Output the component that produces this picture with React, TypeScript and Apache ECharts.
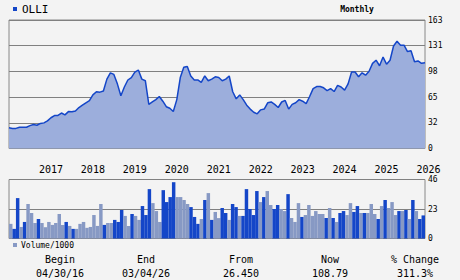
import React, { useEffect, useRef } from "react";
import * as echarts from "echarts";

const FONT = "DejaVu Sans Mono";

const prices: number[] = [
  26.3, 25.5, 25.5, 27, 27, 27, 29, 30.5, 29.5, 31.8,
  32.5, 35, 39, 41.8, 42, 45, 42.6, 46.8, 46.5, 47.5,
  52, 55, 58, 60.6, 68, 72, 71.5, 73, 88, 96,
  94, 82, 67, 78, 86.9, 90, 97, 99.5, 88, 86,
  56, 59, 62, 66, 60, 53, 51, 47, 62, 90,
  103, 104, 92, 87, 87, 84, 92, 86, 88, 91,
  90, 86, 88, 92, 72, 63, 68, 62, 55, 50,
  46, 44, 49, 50, 58, 59, 56, 52, 59, 61,
  50, 56, 58, 62, 60, 57, 66, 76, 78.6, 78.6,
  77, 73.5, 76, 72.3, 80, 78, 74, 82, 97, 97,
  91, 96, 93, 98, 108, 112, 105, 116, 107, 112,
  130, 136, 131, 131, 123, 124, 110, 111, 108, 108.79,
];

const volumes: number[] = [
  11.4, 7.5, 31.5, 9, 12.9, 26.9, 19.9, 12.1, 15.2, 12.1,
  8.8, 12.9, 10.6, 12.1, 19.1, 10.6, 12.9, 9.8, 7.5, 7.5,
  11.4, 12.9, 8.3, 9, 18.3, 9.8, 26.9, 10.6, 12.1, 12.1,
  14.5, 12.9, 22.2, 17.6, 9.8, 19.1, 17.6, 14.5, 25.3, 18.3,
  38.5, 27.6, 21.4, 12.9, 37.7, 28.4, 32.3, 43.9, 32.3, 32.3,
  30, 26.9, 24.5, 16.8, 11.4, 15.2, 30, 35.4, 14.5, 20.7,
  15.9, 23.8, 19.9, 14.5, 26.9, 24.5, 17.6, 17.6, 38.5, 23,
  18.3, 37, 28.4, 32.3, 37, 26.1, 23, 26.1, 23, 21.4,
  34.6, 16, 12.9, 27.6, 16.8, 18.3, 26.1, 17.6, 21.4, 19.1,
  19.1, 16, 23.8, 16, 12.9, 19.9, 21.4, 18.3, 27.6, 20.7,
  25.3, 19.9, 19.9, 19.9, 26.9, 19.1, 15.2, 25.3, 30, 23.8,
  28.4, 18.3, 21.4, 21.4, 22.2, 15.2, 30, 21.4, 15.2, 18,
];

// 1 = dark blue bar, 0 = light bar
const volumeDark: number[] = [
  0, 1, 1, 0, 1, 0, 0, 0, 1, 0,
  0, 0, 0, 0, 0, 0, 1, 0, 1, 0,
  0, 0, 0, 0, 0, 0, 0, 1, 0, 0,
  1, 1, 1, 0, 0, 1, 0, 0, 1, 1,
  1, 0, 0, 0, 1, 1, 1, 1, 0, 0,
  0, 0, 1, 1, 1, 0, 1, 0, 1, 0,
  0, 1, 1, 0, 1, 1, 0, 1, 1, 1,
  1, 1, 0, 1, 0, 0, 1, 1, 0, 0,
  1, 0, 0, 0, 1, 0, 0, 0, 0, 0,
  0, 1, 0, 1, 0, 1, 1, 0, 0, 1,
  1, 0, 1, 0, 0, 0, 1, 0, 1, 0,
  0, 0, 1, 0, 1, 0, 1, 0, 1, 1,
];

const yearLabels: string[] = ["2017", "2018", "2019", "2020", "2021", "2022", "2023", "2024", "2025", "2026"];
const priceTickLabels: string[] = ["0", "32", "65", "98", "131", "163"];
const volumeTickLabels: string[] = ["0", "23", "46"];

const ticker = "OLLI";
const period = "Monthly";
const volumeLabel = "Volume/1000";
const summaryHeaders: string[] = ["Begin", "End", "From", "Now", "% Change"];
const summaryValues: string[] = ["04/30/16", "03/04/26", "26.450", "108.79", "311.3%"];

const months: string[] = prices.map((_, i) => {
  const m = 3 + i; // April 2016 start
  const y = 2016 + Math.floor(m / 12);
  return `${y}-${String((m % 12) + 1).padStart(2, "0")}`;
});

const DARK = "#1446c8";
const LIGHT = "#8799c4";

export default function App() {
  const ref = useRef<HTMLDivElement>(null);
  useEffect(() => {
    document.body.style.margin = "0";
    if (!ref.current) return;
    const chart = echarts.init(ref.current, undefined, { renderer: "svg" });
    const summaryX = [60, 146, 241, 330, 415];
    const option: any = {
      animation: false,
      backgroundColor: "#f3f3f3",
      grid: [
        { left: 9, top: 20, width: 416, height: 128.5, show: true, borderColor: "#888", borderWidth: 1, backgroundColor: "transparent" },
        { left: 9, top: 179.5, width: 416, height: 59, show: true, borderColor: "#888", borderWidth: 1, backgroundColor: "transparent" },
        { left: 9, top: 160, width: 419.5, height: 1 },
      ],
      xAxis: [
        { type: "category", gridIndex: 0, data: months, boundaryGap: false, axisLine: { show: false }, axisTick: { show: false }, axisLabel: { show: false }, splitLine: { show: false } },
        { type: "category", gridIndex: 1, data: months, boundaryGap: true, axisLine: { show: false }, axisTick: { show: false }, axisLabel: { show: false }, splitLine: { show: false } },
        {
          type: "value", gridIndex: 2, min: 0, max: 120, interval: 12,
          axisLine: { show: false }, axisTick: { show: false }, splitLine: { show: false },
          axisLabel: {
            formatter: (v: number) => (v === 0 ? "" : yearLabels[Math.round(v / 12) - 1] || ""),
            fontFamily: FONT, fontSize: 10, color: "#000", margin: 3, showMaxLabel: true,
          },
        },
      ],
      yAxis: [
        {
          type: "value", gridIndex: 0, position: "right", min: 0, max: 163, interval: 32.6,
          axisLine: { show: false }, axisTick: { show: false },
          splitLine: { lineStyle: { color: "#808080", width: 1 } },
          axisLabel: { formatter: (v: number) => priceTickLabels[Math.round(v / 32.6)] || "", fontFamily: FONT, fontSize: 8, color: "#000", margin: 3, padding: [4, 0, 0, 0] },
        },
        {
          type: "value", gridIndex: 1, position: "right", min: 0, max: 46, interval: 23,
          axisLine: { show: false }, axisTick: { show: false },
          splitLine: { lineStyle: { color: "#808080", width: 1 } },
          axisLabel: { formatter: (v: number) => volumeTickLabels[Math.round(v / 23)] || "", fontFamily: FONT, fontSize: 8, color: "#000", margin: 3, padding: [4, 0, 0, 0] },
        },
        { type: "value", gridIndex: 2, show: false },
      ],
      series: [
        {
          type: "line", xAxisIndex: 0, yAxisIndex: 0, data: prices, symbol: "none",
          lineStyle: { color: DARK, width: 1.5 },
          areaStyle: { color: "#9caedc", opacity: 1 },
        },
        {
          type: "bar", xAxisIndex: 1, yAxisIndex: 1, barCategoryGap: "0%", barWidth: "100%",
          data: volumes.map((v, i) => ({ value: v, itemStyle: { color: volumeDark[i] ? DARK : LIGHT } })),
        },
      ],
      graphic: [
        { type: "rect", left: 13, top: 7, shape: { width: 4, height: 4 }, style: { fill: DARK } },
        { type: "text", x: 22, y: 9.5, style: { text: ticker, font: `11px '${FONT}'`, fill: "#000", verticalAlign: "middle" } },
        { type: "text", x: 357, y: 9.5, style: { text: period, font: `bold 8px '${FONT}'`, fill: "#000", align: "center", verticalAlign: "middle" } },
        { type: "rect", left: 13, top: 243, shape: { width: 4, height: 4 }, style: { fill: LIGHT } },
        { type: "text", x: 21, y: 245.5, style: { text: volumeLabel, font: `8px '${FONT}'`, fill: "#000", verticalAlign: "middle" } },
        ...summaryHeaders.map((t, i) => ({ type: "text", x: summaryX[i], y: 259, style: { text: t, font: `10px '${FONT}'`, fill: "#000", align: "center", verticalAlign: "middle" } })),
        ...summaryValues.map((t, i) => ({ type: "text", x: summaryX[i], y: 273, style: { text: t, font: `10px '${FONT}'`, fill: "#000", align: "center", verticalAlign: "middle" } })),
      ],
    };
    chart.setOption(option);
    return () => chart.dispose();
  }, []);
  return <div ref={ref} style={{ width: 460, height: 280 }} />;
}
